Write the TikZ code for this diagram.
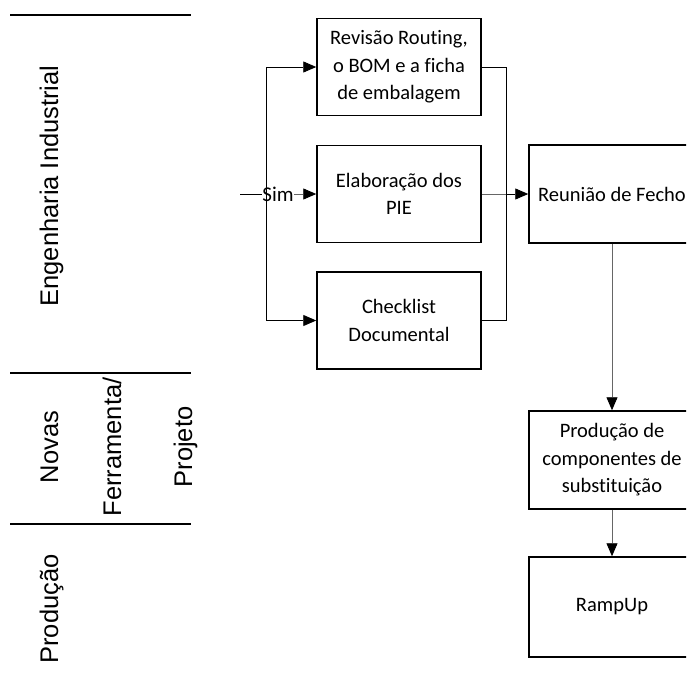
\documentclass[tikz,border=0pt]{standalone}
\usepackage{fontspec}
\setmainfont{Liberation Sans}
\newfontfamily\boxfont[Ligatures=NoCommon]{Carlito}
\usetikzlibrary{arrows.meta}

\tikzset{
  stepbox/.style={draw=black, line width=1.5pt, minimum width=164pt,
    minimum height=97pt, inner sep=0pt, align=center,
    font=\boxfont\fontsize{20.5}{27.5}\selectfont},
  lanelabel/.style={rotate=90, anchor=base, inner sep=0pt,
    font=\fontsize{25.5}{30}\selectfont},
  laneline/.style={line width=2.5pt},
  flow/.style={line width=0.9pt, black},
  greyflow/.style={line width=0.9pt, black!60},
  tip/.style={-{Triangle[length=13pt,width=11pt,color=black]}}
}

\begin{document}
\begin{tikzpicture}[x=1pt,y=-1pt]
  \useasboundingbox (0,0) rectangle (686,688);
  \clip (0,0) rectangle (686,688);

  % swimlane separators
  \draw[laneline] (10,15) -- (191,15);
  \draw[laneline] (10,373) -- (191,373);
  \draw[laneline] (10,524) -- (191,524);

  % swimlane titles
  \node[lanelabel] (laneEng) at (58,186) {Engenharia Industrial};
  \node[lanelabel] (laneNovas) at (58,447) {Novas};
  \node[lanelabel] (laneFerr) at (121,447) {Ferramenta/};
  \node[lanelabel] (laneProj) at (192,447) {Projeto};
  \node[lanelabel] (laneProd) at (58,609) {Produção};

  % process steps
  \node[stepbox] (rev) at (399,67) {Revisão Routing,\\o BOM e a ficha\\de embalagem};
  \node[stepbox] (pie) at (399,194) {Elaboração dos\\PIE};
  \node[stepbox] (chk) at (399,320.5) {Checklist\\Documental};
  \node[stepbox, minimum width=166pt, minimum height=98pt] (fecho) at (612,194) {Reunião de Fecho};
  \node[stepbox, minimum width=166pt, minimum height=98pt] (subst) at (612,460) {Produção de\\componentes de\\substituição};
  \node[stepbox, minimum width=166pt, minimum height=100pt] (ramp) at (612,607) {RampUp};

  % incoming decision branch
  \coordinate (entry) at (240,194);
  \coordinate (fork) at (266,194);
  \coordinate (join) at (506,194);
  \node[inner sep=0pt, font=\boxfont\fontsize{21}{25}\selectfont] (sim) at (278,194) {Sim};

  \draw[flow] (entry) -- (sim.west);
  \draw[greyflow, tip] (sim.east) -- (pie.west);
  \draw[flow, tip] (fork) |- (rev.west);
  \draw[flow, tip] (fork) |- (chk.west);

  % parallel steps merge
  \draw[flow] (rev.east) -| (join);
  \draw[flow] (chk.east) -| (join);
  \draw[greyflow] (pie.east) -- (join);
  \draw[flow, tip] (join) -- (fecho.west);

  % sequence after the closing meeting
  \draw[greyflow, tip] (fecho) -- (subst);
  \draw[greyflow, tip] (subst) -- (ramp);
\end{tikzpicture}
\end{document}
